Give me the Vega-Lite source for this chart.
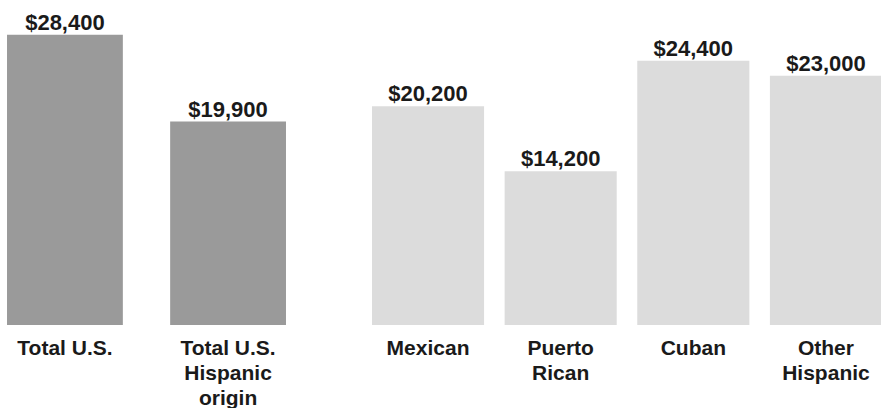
{
  "$schema": "https://vega.github.io/schema/vega-lite/v6.json",
  "padding": 0,
  "background": "white",
  "config": {
    "view": {"stroke": null},
    "concat": {"spacing": 79},
    "font": "Liberation Sans",
    "axisX": {
      "title": null,
      "domain": false,
      "ticks": false,
      "grid": false,
      "labelAngle": 0,
      "labelFontSize": 21,
      "labelFontWeight": "bold",
      "labelColor": "#1a1a1a",
      "labelPadding": 12,
      "labelLineHeight": 25,
      "labelLimit": 300,
      "labelExpr": "datum.value == 'Total U.S. Hispanic origin' ? ['Total U.S.', 'Hispanic', 'origin'] : datum.value == 'Puerto Rican' ? ['Puerto', 'Rican'] : datum.value == 'Other Hispanic' ? ['Other', 'Hispanic'] : datum.value"
    }
  },
  "data": {
    "values": [
      {"group": "US", "category": "Total U.S.", "income": 28400},
      {"group": "US", "category": "Total U.S. Hispanic origin", "income": 19900},
      {"group": "Hispanic", "category": "Mexican", "income": 20200},
      {"group": "Hispanic", "category": "Puerto Rican", "income": 14200},
      {"group": "Hispanic", "category": "Cuban", "income": 24400},
      {"group": "Hispanic", "category": "Other Hispanic", "income": 23000}
    ]
  },
  "hconcat": [
    {
      "transform": [{"filter": "datum.group == 'US'"}],
      "width": 293,
      "height": 325,
      "encoding": {
        "x": {"field": "category", "type": "nominal", "sort": null, "scale": {"paddingInner": 0.29, "paddingOuter": 0.043}},
        "y": {"field": "income", "type": "quantitative", "scale": {"domain": [0, 31800], "nice": false}, "axis": null}
      },
      "layer": [
        {"mark": {"type": "bar", "color": "#9a9a9a"}},
        {
          "mark": {"type": "text", "baseline": "alphabetic", "dy": -5, "fontSize": 22, "fontWeight": "bold", "color": "#1a1a1a"},
          "encoding": {"text": {"field": "income", "type": "quantitative", "format": "$,.0f"}}
        }
      ]
    },
    {
      "transform": [{"filter": "datum.group == 'Hispanic'"}],
      "width": 510,
      "height": 325,
      "encoding": {
        "x": {"field": "category", "type": "nominal", "sort": null, "scale": {"paddingInner": 0.155, "paddingOuter": 0}},
        "y": {"field": "income", "type": "quantitative", "scale": {"domain": [0, 30000], "nice": false}, "axis": null}
      },
      "layer": [
        {"mark": {"type": "bar", "color": "#dcdcdc"}},
        {
          "mark": {"type": "text", "baseline": "alphabetic", "dy": -5, "fontSize": 22, "fontWeight": "bold", "color": "#1a1a1a"},
          "encoding": {"text": {"field": "income", "type": "quantitative", "format": "$,.0f"}}
        }
      ]
    }
  ],
  "resolve": {"scale": {"y": "independent", "x": "independent"}}
}
